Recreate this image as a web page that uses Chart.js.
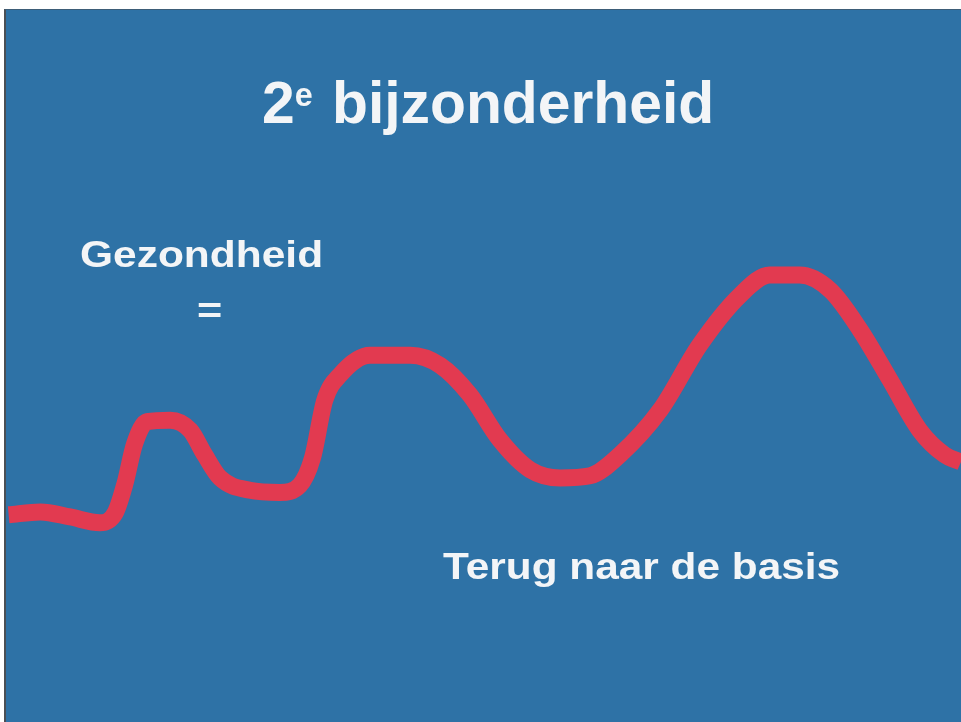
<!DOCTYPE html>
<html>
<head>
<meta charset="utf-8">
<script src="https://cdn.jsdelivr.net/npm/chart.js@4.4.1/dist/chart.umd.min.js"></script>
<style>
html,body{margin:0;padding:0;background:#fff;width:961px;height:722px;overflow:hidden}
#slide{position:absolute;left:4px;top:9px;width:957px;height:713px;background:#2e72a6;border-left:2px solid #4a4f55;border-top:1px solid #3d5d78;box-sizing:border-box}
#c{position:absolute;left:0;top:0}
.t{position:absolute;color:#f3f5f7;font-family:"Liberation Sans",Arial,sans-serif;font-weight:bold;white-space:nowrap;transform-origin:0 0}
#title{left:262px;top:68px;font-size:60px;transform:scaleX(0.98)}
#title sup{font-size:33px;vertical-align:top;position:relative;top:8px;margin-right:3px}
#g{left:80px;top:234px;font-size:36px;transform:scaleX(1.18)}
#eq{left:197px;top:290px;font-size:36px;transform:scaleX(1.2)}
#basis{left:443px;top:546px;font-size:37px;transform:scaleX(1.145)}
</style>
</head>
<body>
<div id="slide"></div>
<canvas id="c" width="961" height="722"></canvas>
<div class="t" id="title">2<sup>e</sup> bijzonderheid</div>
<div class="t" id="g">Gezondheid</div>
<div class="t" id="eq">=</div>
<div class="t" id="basis">Terug naar de basis</div>
<script>
// time (0-100) and health level (0-100)
const tijd = [0.9, 4.2, 7.3, 10.4, 12.0, 13.0, 14.0, 15.3, 17.7, 19.8, 21.3, 22.9, 26.0, 29.1, 31.2, 32.5, 33.8, 35.4, 38.5, 42.7, 45.8, 48.9, 52.0, 55.2, 58.3, 61.4, 64.5, 68.7, 72.8, 77.0, 80.1, 83.2, 86.4, 89.5, 92.6, 95.7, 98.3, 100]
const gezondheid = [28.7, 29.1, 28.4, 27.6, 29.0, 33.0, 38.5, 41.6, 41.8, 40.4, 37.0, 33.8, 32.1, 31.8, 32.8, 36.5, 44.6, 48.1, 50.8, 50.8, 49.4, 45.3, 39.1, 34.9, 33.8, 34.1, 37.0, 43.2, 52.2, 59.1, 61.9, 61.9, 59.8, 54.3, 47.4, 40.4, 37.0, 36.0]

const points = tijd.map((t,i)=>({x:t, y:gezondheid[i]}))

new Chart(document.getElementById("c").getContext("2d"),{
  type:'line',
  data:{datasets:[{
    data:points,
    borderColor:'#e23a50',
    borderWidth:17,
    borderCapStyle:'butt',
    borderJoinStyle:'round',
    pointRadius:0,
    cubicInterpolationMode:'monotone',
    fill:false
  }]},
  options:{
    responsive:false,
    animation:false,
    layout:{padding:0},
    plugins:{legend:{display:false},tooltip:{enabled:false}},
    scales:{
      x:{type:'linear',min:0,max:100,display:false},
      y:{min:0,max:100,display:false}
    }
  }
})
</script>
</body>
</html>
